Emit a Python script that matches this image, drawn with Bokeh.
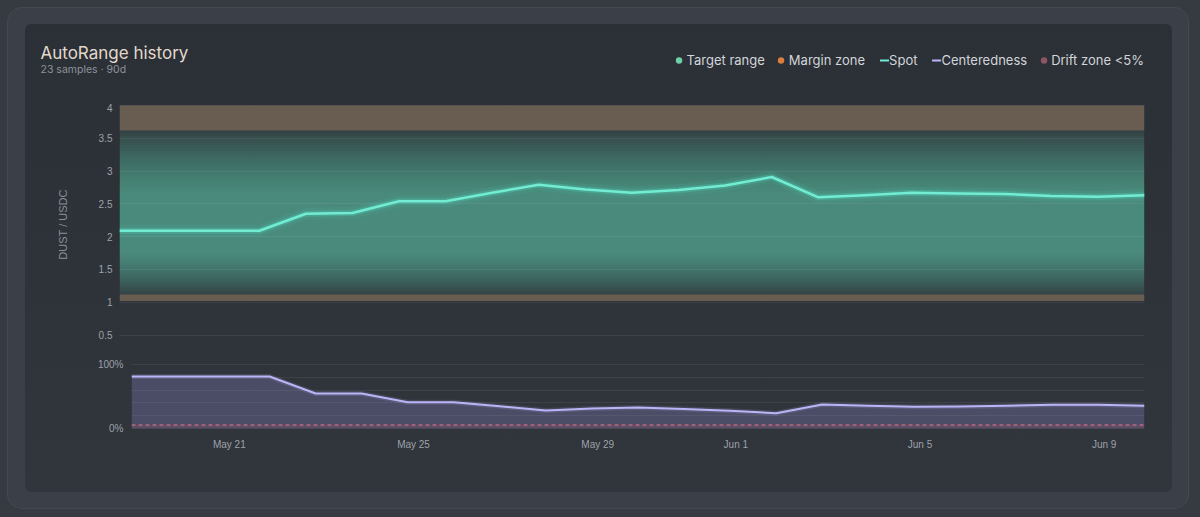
import numpy as np
import pandas as pd
from bokeh.plotting import figure
from bokeh.layouts import column
from bokeh.models import (Range1d, FixedTicker, NumeralTickFormatter, PrintfTickFormatter,
                          DatetimeTickFormatter, Label, Legend, LegendItem, ColumnDataSource)
from bokeh.embed import file_html
from bokeh.resources import INLINE

# ---------------- data ----------------
TITLE = "AutoRange history"
SUBTITLE = "23 samples \u00b7 90d"
Y_LABEL = "DUST / USDC"

SAMPLE_TIMES = [
    "2025-05-18 21:00", "2025-05-19 21:00", "2025-05-20 21:00", "2025-05-21 21:00",
    "2025-05-22 21:00", "2025-05-23 21:00", "2025-05-24 21:00", "2025-05-25 21:00",
    "2025-05-26 21:00", "2025-05-27 21:00", "2025-05-28 21:00", "2025-05-29 21:00",
    "2025-05-30 21:00", "2025-05-31 21:00", "2025-06-01 21:00", "2025-06-02 21:00",
    "2025-06-03 21:00", "2025-06-04 21:00", "2025-06-05 21:00", "2025-06-06 21:00",
    "2025-06-07 21:00", "2025-06-08 21:00", "2025-06-09 21:00",
]
SPOT = [2.09, 2.09, 2.09, 2.09, 2.35, 2.36, 2.54, 2.54, 2.67, 2.79, 2.72, 2.67,
        2.71, 2.78, 2.91, 2.60, 2.63, 2.67, 2.66, 2.65, 2.62, 2.61, 2.63]
CENTEREDNESS = [81.5, 81.5, 81.5, 81.5, 54.7, 54.7, 41.0, 41.0, 34.5, 28.0, 31.0, 32.6,
                30.5, 27.4, 23.7, 37.4, 35.3, 33.7, 34.2, 35.3, 36.9, 36.9, 35.3]

TARGET_RANGE = (1.12, 3.62)
MARGIN_LOW = (1.02, 1.12)
MARGIN_HIGH = (3.62, 4.00)
DRIFT_ZONE = (0, 5)

PRICE_TICKS = [0.5, 1, 1.5, 2, 2.5, 3, 3.5, 4]
PCT_LABEL_TICKS = [0, 100]
PCT_GRID_TICKS = [0, 20, 40, 60, 80, 100]
DATE_TICKS = ["2025-05-21", "2025-05-25", "2025-05-29", "2025-06-01", "2025-06-05", "2025-06-09"]

LEGEND_LABELS = ["Target range", "Margin zone", "Spot", "Centeredness", "Drift zone <5%"]

# ---------------- style ----------------
C_TARGET = "#6fd0a8"
C_MARGIN = "#d9803e"
C_MARGIN_FILL = "#695c50"
C_SPOT = "#72ecd3"
C_SPOT_GLOW = "#4fd1b5"
C_CENTER = "#bbb4f7"
C_CENTER_FILL = "#a59cf0"
C_DRIFT = "#8e5563"
C_DRIFT_LINE = "#c46c80"
TICK_COLOR = "#9da2aa"
GRID = "#ffffff"

W = 1147
H_HEAD = 79
H_TOP = 247
H_BOT = 142

times = pd.to_datetime(SAMPLE_TIMES)
t0, t1 = times[0], times[-1]
date_ticks_ms = [pd.Timestamp(d).value / 1e6 for d in DATE_TICKS]


def style_common(fig):
    fig.outline_line_color = None
    fig.background_fill_alpha = 0
    fig.border_fill_alpha = 0


# ---------------- header (title, subtitle, legend) ----------------
h = figure(width=W, height=H_HEAD, output_backend="svg", toolbar_location=None,
           x_axis_location=None, y_axis_location=None, frame_align=False,
           x_range=Range1d(0, 1), y_range=Range1d(0, 1),
           min_border_left=0, min_border_right=0, min_border_top=0, min_border_bottom=0)
style_common(h)
h.grid.visible = False

h.add_layout(Label(x=15, y=50.5, x_units="screen", y_units="screen", text=TITLE,
                   text_font="Inter", text_font_size="17px", text_color="#e2d9cc",
                   text_baseline="alphabetic"))
h.add_layout(Label(x=15, y=33.8, x_units="screen", y_units="screen", text=SUBTITLE,
                   text_font="Inter", text_font_size="10.5px", text_color="#8d939b",
                   text_baseline="alphabetic"))

# legend proxies (NaN points: nothing is drawn in the plot, only the legend swatch)
nan = [np.nan]
r_t = h.scatter(x=nan, y=nan, marker="circle", fill_color=C_TARGET, line_color=None)
r_m = h.scatter(x=nan, y=nan, marker="circle", fill_color=C_MARGIN, line_color=None)
r_s = h.line(x=nan, y=nan, line_color=C_SPOT, line_width=2, line_dash="0 6 9 40")
r_c = h.line(x=nan, y=nan, line_color=C_CENTER, line_width=2, line_dash="0 6 9 40")
r_d = h.scatter(x=nan, y=nan, marker="circle", fill_color=C_DRIFT, line_color=None)
legend = Legend(items=[LegendItem(label=l, renderers=[r]) for l, r in
                       zip(LEGEND_LABELS, [r_t, r_m, r_s, r_c, r_d])],
                orientation="horizontal", location="top_right", margin=28,
                glyph_width=16, glyph_height=16, label_standoff=0, spacing=8,
                padding=0, border_line_color=None, background_fill_alpha=0,
                label_text_font="Inter", label_text_font_size="13px",
                label_text_color="#d2d5d9", label_height=16)
h.add_layout(legend)

# ---------------- top chart ----------------
p = figure(width=W, height=H_TOP, output_backend="svg", toolbar_location=None,
           x_axis_type="datetime", x_axis_location=None, frame_align=False,
           x_range=Range1d(t0, t1), y_range=Range1d(0.3415, 4.03),
           min_border_left=94, min_border_right=28, min_border_top=0, min_border_bottom=5)
style_common(p)
p.xgrid.visible = False
p.ygrid.ticker = FixedTicker(ticks=PRICE_TICKS)
p.ygrid.grid_line_color = GRID
p.ygrid.grid_line_alpha = 0.07

# margin zones
p.quad(left=[t0, t0], right=[t1, t1], bottom=[MARGIN_LOW[0], MARGIN_HIGH[0]],
       top=[MARGIN_LOW[1], MARGIN_HIGH[1]], fill_color=C_MARGIN_FILL, line_color=None, level="image")

# target range: nested translucent layers give a soft vertical gradient
lo, hi = TARGET_RANGE
L = 22
k = np.arange(L)
layer_bottom = lo + k * 0.03
layer_top = hi - k * 0.045
layer_alpha = np.where(k == 0, 0.12, 0.04)
layers = ColumnDataSource(dict(bottom=layer_bottom, top=layer_top, alpha=layer_alpha))
p.quad(left=t0, right=t1, bottom="bottom", top="top", source=layers,
       fill_color=C_TARGET, fill_alpha="alpha", line_color=None, level="image")

# spot with glow
p.line(times, SPOT, line_color=C_SPOT_GLOW, line_width=12, line_alpha=0.10, line_join="round")
p.line(times, SPOT, line_color=C_SPOT_GLOW, line_width=6, line_alpha=0.30, line_join="round")
p.line(times, SPOT, line_color=C_SPOT, line_width=2.5, line_join="round")

ya = p.yaxis[0]
ya.ticker = FixedTicker(ticks=PRICE_TICKS)
ya.formatter = NumeralTickFormatter(format="0.[0]")
ya.axis_line_color = None
ya.major_tick_line_color = None
ya.minor_tick_line_color = None
ya.major_tick_out = 0
ya.major_tick_in = 0
ya.major_label_standoff = 7
ya.major_label_text_font = "Liberation Sans"
ya.major_label_text_font_size = "10px"
ya.major_label_text_color = TICK_COLOR
ya.axis_label = Y_LABEL
ya.axis_label_text_font = "Liberation Sans"
ya.axis_label_text_font_size = "11px"
ya.axis_label_text_font_style = "normal"
ya.axis_label_text_color = "#8a9098"
ya.axis_label_standoff = 27

# ---------------- bottom chart ----------------
q = figure(width=W, height=H_BOT, output_backend="svg", toolbar_location=None,
           x_axis_type="datetime", frame_align=False,
           x_range=Range1d(t0, t1), y_range=Range1d(-3.6, 106.8),
           min_border_left=106, min_border_right=28, min_border_top=10, min_border_bottom=62)
style_common(q)
q.xgrid.visible = False
q.ygrid.ticker = FixedTicker(ticks=PCT_GRID_TICKS)
q.ygrid.grid_line_color = GRID
q.ygrid.grid_line_alpha = 0.07

q.varea(x=times, y1=0, y2=CENTEREDNESS, fill_color=C_CENTER_FILL, fill_alpha=0.24)
q.quad(left=[t0], right=[t1], bottom=[DRIFT_ZONE[0]], top=[DRIFT_ZONE[1]],
       fill_color="#c0566e", fill_alpha=0.16, line_color=None)
q.line(x=[t0, t1], y=[DRIFT_ZONE[1], DRIFT_ZONE[1]], line_color=C_DRIFT_LINE,
       line_width=1.5, line_dash="4 3", line_alpha=0.9)
q.line(times, CENTEREDNESS, line_color=C_CENTER, line_width=5, line_alpha=0.15, line_join="round")
q.line(times, CENTEREDNESS, line_color=C_CENTER, line_width=2, line_join="round")

xa = q.xaxis[0]
xa.ticker = FixedTicker(ticks=date_ticks_ms)
fmt = "%b %-d"
xa.formatter = DatetimeTickFormatter(days=fmt, months=fmt, hours=fmt, minutes=fmt,
                                     hourmin=fmt, years=fmt)
for ax in (xa, q.yaxis[0]):
    ax.axis_line_color = None
    ax.major_tick_line_color = None
    ax.minor_tick_line_color = None
    ax.major_tick_out = 0
    ax.major_tick_in = 0
    ax.major_label_standoff = 8
    ax.major_label_text_font = "Liberation Sans"
    ax.major_label_text_font_size = "10px"
    ax.major_label_text_color = TICK_COLOR
q.yaxis[0].ticker = FixedTicker(ticks=PCT_LABEL_TICKS)
q.yaxis[0].formatter = PrintfTickFormatter(format="%d%%")

# ---------------- layout ----------------
inner = column(h, p, q, margin=(16, 16, 16, 17), spacing=0,
               styles={"background": "linear-gradient(180deg, #2b2f36 0%, #31353c 100%)",
                       "border-radius": "6px"})
outer = column(inner, margin=(8, 12, 8, 8),
               styles={"background-color": "#3b3f47", "border-radius": "14px",
                       "box-shadow": "0 0 0 1px #444851, 0 0 0 60px #363a41"})

open("out.html", "w").write(file_html(outer, INLINE))
